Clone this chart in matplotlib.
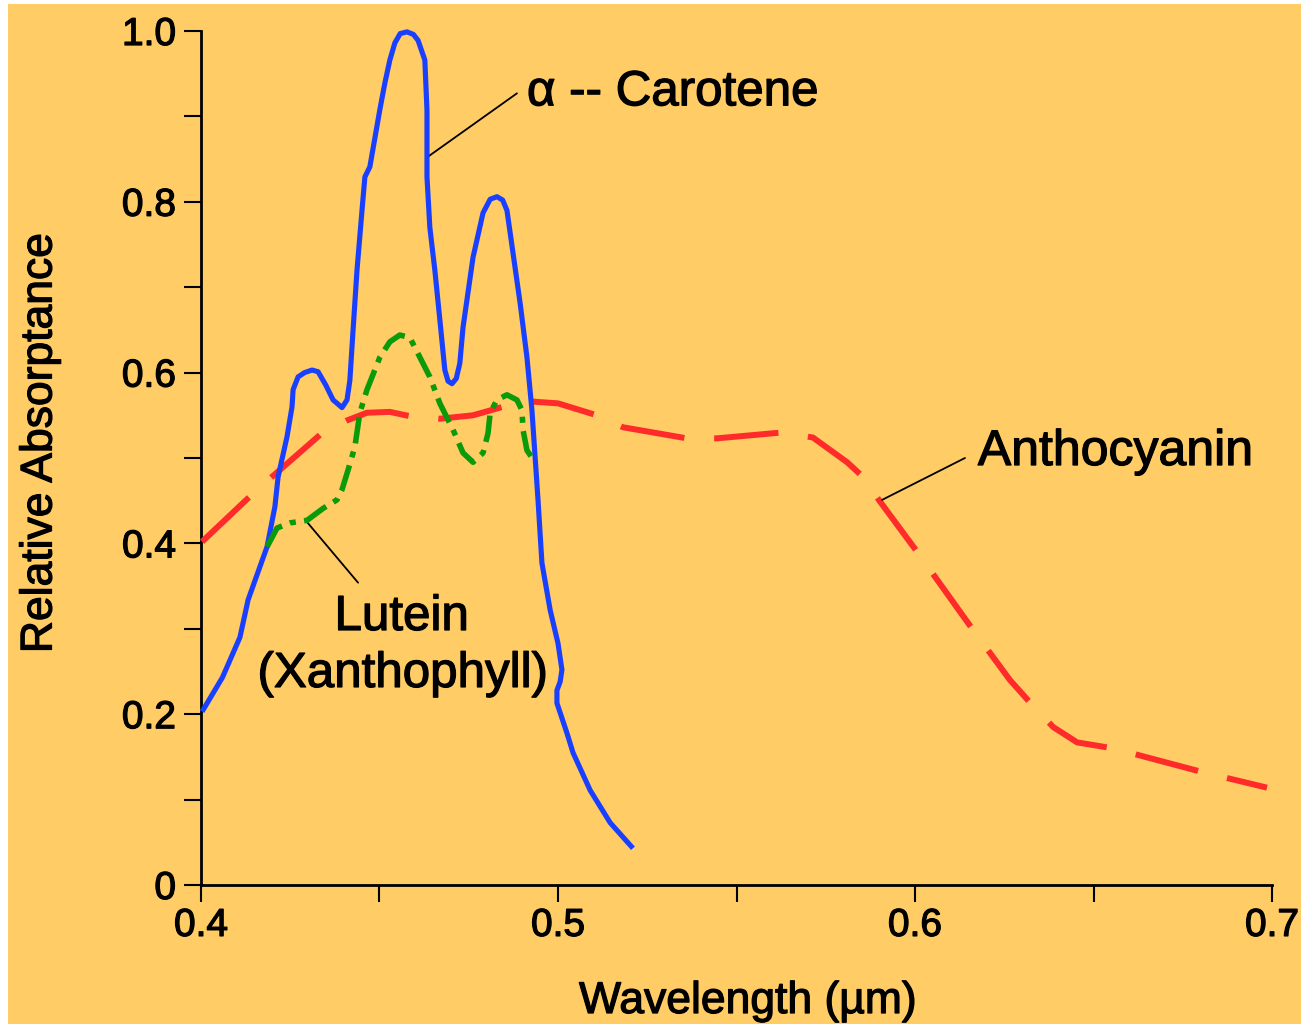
import matplotlib
matplotlib.use("Agg")
import matplotlib.pyplot as plt
import matplotlib.patheffects as pe
from matplotlib.patches import Rectangle

plt.rcParams['font.family'] = ['Liberation Sans', 'DejaVu Sans']

# ---- data ----
carotene_x = [0.4003, 0.4060, 0.4109, 0.4132, 0.4185, 0.4207, 0.4216, 0.4241, 0.4255, 0.4258, 0.4272,
              0.4290, 0.4311, 0.4328, 0.4350, 0.4370, 0.4395, 0.4409, 0.4417, 0.4426, 0.4437, 0.4451, 0.4459,
              0.4473, 0.4501, 0.4515, 0.4529, 0.4543, 0.4558, 0.4577, 0.4595, 0.4608, 0.4627, 0.4633, 0.4633,
              0.4641, 0.4655, 0.4669, 0.4683, 0.4692, 0.4703, 0.4715, 0.4725, 0.4734, 0.4762, 0.4790, 0.4810, 0.4829,
              0.4845, 0.4857, 0.4874, 0.4894, 0.4913, 0.4927, 0.4944, 0.4955, 0.4978, 0.5000, 0.5011,
              0.5006, 0.4997, 0.4997, 0.5025, 0.5042, 0.5090, 0.5146, 0.5210]
carotene_y = [0.203, 0.243, 0.290, 0.334, 0.396, 0.443, 0.478, 0.525, 0.560, 0.580, 0.595,
              0.600, 0.603, 0.601, 0.585, 0.568, 0.559, 0.568, 0.591, 0.650, 0.720, 0.790, 0.829,
              0.841, 0.908, 0.939, 0.966, 0.986, 0.997, 0.999, 0.996, 0.989, 0.966, 0.907, 0.829,
              0.770, 0.720, 0.662, 0.603, 0.590, 0.587, 0.593, 0.611, 0.653, 0.735, 0.787, 0.803, 0.806,
              0.802, 0.790, 0.740, 0.681, 0.618, 0.556, 0.451, 0.377, 0.322, 0.283, 0.252,
              0.238, 0.228, 0.213, 0.178, 0.155, 0.111, 0.073, 0.043]

lutein_x = [0.4185, 0.4213, 0.4249, 0.4297, 0.4342, 0.4381, 0.4395, 0.4412, 0.4431, 0.4445,
            0.4465, 0.4501, 0.4529, 0.4557, 0.4585, 0.4613, 0.4641, 0.4669, 0.4706, 0.4734,
            0.4762, 0.4790, 0.4804, 0.4810, 0.4829, 0.4857, 0.4885, 0.4899, 0.4902, 0.4913,
            0.4936]
lutein_y = [0.396, 0.418, 0.424, 0.427, 0.441, 0.451, 0.463, 0.486, 0.513, 0.553,
            0.580, 0.618, 0.636, 0.644, 0.641, 0.618, 0.595, 0.564, 0.533, 0.506,
            0.495, 0.506, 0.529, 0.553, 0.568, 0.574, 0.568, 0.556, 0.533, 0.509,
            0.495]

antho_x = [0.4003, 0.4132, 0.4199, 0.4333, 0.4409, 0.4465, 0.4529, 0.4585, 0.4669, 0.4762,
           0.4846, 0.4930, 0.5000, 0.5109, 0.5182, 0.5361, 0.5445, 0.5630, 0.5714, 0.5810,
           0.5854, 0.5902, 0.6008, 0.6162, 0.6266, 0.6328, 0.6387, 0.6454, 0.6555, 0.6807,
           0.6986]
antho_y = [0.402, 0.453, 0.478, 0.527, 0.544, 0.553, 0.554, 0.549, 0.546, 0.550,
           0.560, 0.566, 0.564, 0.550, 0.536, 0.523, 0.523, 0.530, 0.524, 0.495,
           0.478, 0.449, 0.389, 0.299, 0.240, 0.211, 0.185, 0.167, 0.160, 0.132,
           0.114]

x_ticks = [0.40, 0.45, 0.50, 0.55, 0.60, 0.65, 0.70]
x_ticklabels = ['0.4', '', '0.5', '', '0.6', '', '0.7']
y_ticks = [0.0, 0.1, 0.2, 0.3, 0.4, 0.5, 0.6, 0.7, 0.8, 0.9, 1.0]
y_ticklabels = ['0', '', '0.2', '', '0.4', '', '0.6', '', '0.8', '', '1.0']

BG = '#FFCC66'
W, H = 1301, 1024
bold = [pe.withStroke(linewidth=0.9, foreground='black')]

fig = plt.figure(figsize=(W / 100, H / 100), dpi=100, facecolor='white')
# orange panel (white strip on left and top)
fig.patches.append(Rectangle((8 / W, 0), 1 - 8 / W, 1 - 4 / H, transform=fig.transFigure,
                             facecolor=BG, edgecolor='none', zorder=-10))

ax = fig.add_axes([201 / W, 1 - 885 / H, (1272 - 201) / W, (885 - 31) / H])
ax.set_facecolor('none')
ax.set_xlim(0.4, 0.7)
ax.set_ylim(0.0, 1.0)

for s in ['top', 'right']:
    ax.spines[s].set_visible(False)
for s in ['left', 'bottom']:
    ax.spines[s].set_linewidth(2.0)
    ax.spines[s].set_color('black')

ax.set_xticks(x_ticks)
ax.set_xticklabels(x_ticklabels)
ax.set_yticks(y_ticks)
ax.set_yticklabels(y_ticklabels)
ax.tick_params(axis='both', direction='out', length=12.5, width=1.5, color='black',
               labelsize=28, labelcolor='black')
ax.tick_params(axis='x', pad=4)
ax.tick_params(axis='y', pad=5.5)
for lab in ax.get_xticklabels() + ax.get_yticklabels():
    lab.set_path_effects(bold)

# curves
ax.plot(antho_x, antho_y, color='#FF2A2A', lw=4.3, dashes=(10.8, 5.0),
        dash_capstyle='butt', dash_joinstyle='round', clip_on=False, zorder=3)
ax.plot(carotene_x, carotene_y, color='#1A40FF', lw=3.7, solid_joinstyle='round',
        solid_capstyle='butt', clip_on=False, zorder=4)
ax.plot(lutein_x, lutein_y, color='#0A9A0A', lw=4.0, dashes=(4.8, 1.5, 1.1, 1.5),
        dash_capstyle='butt', dash_joinstyle='round', clip_on=False, zorder=5)

# leader lines
lp = dict(arrowstyle='-', lw=1.3, color='black', shrinkA=0, shrinkB=0)
ax.annotate('', xy=(0.4633, 0.852), xytext=(0.4885, 0.927), arrowprops=lp)
ax.annotate('', xy=(0.5908, 0.451), xytext=(0.6140, 0.500), arrowprops=lp)
ax.annotate('', xy=(0.4297, 0.425), xytext=(0.4440, 0.354), arrowprops=lp)

# labels on curves
ax.text(0.4913, 0.913, 'α -- Carotene', fontsize=35.5, ha='left', va='baseline', path_effects=bold)
ax.text(0.6176, 0.4918, 'Anthocyanin', fontsize=36, ha='left', va='baseline', path_effects=bold)
ax.text(0.4562, 0.2986, 'Lutein', fontsize=35.5, ha='center', va='baseline', path_effects=bold)
ax.text(0.4565, 0.2319, '(Xanthophyll)', fontsize=35.5, ha='center', va='baseline', path_effects=bold)

# axis titles
fig.text(748 / W, 1 - 1013 / H, 'Wavelength (µm)', fontsize=32, ha='center', va='baseline',
         path_effects=bold)
fig.text(40 / W, 1 - 443 / H, 'Relative Absorptance', fontsize=32, rotation=90,
         ha='center', va='center', path_effects=bold)

fig.savefig('out.png', dpi=100, facecolor=fig.get_facecolor())
